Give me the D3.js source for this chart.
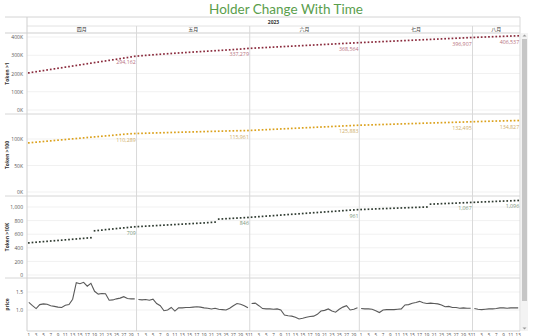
<!DOCTYPE html>
<html>
<head>
<meta charset="utf-8">
<script src="https://cdn.jsdelivr.net/npm/d3@7"></script>
<style>
  body { margin: 0; background: #fff; }
  #wrapper { width: 540px; height: 336px; overflow: hidden; }
  text { font-family: "Open Sans", "Noto Sans", sans-serif; }
</style>
</head>
<body>
<div id="wrapper"></div>
<script>

/* data: one value per day, 2023-04-01 .. 2023-08-13 */
const startDay = "2023-04-01"
const dayCount = 135
const yearLabel = "2023"
const monthLabels = ["四月", "五月", "六月", "七月", "八月"]
const chartTitle = "Holder Change With Time"

const holdersOver1 = [
    203500, 206800, 209900, 213100, 216000, 219400, 222300, 225600, 228700, 231500,
    234900, 237800, 241000, 244100, 247300, 250200, 253600, 256500, 259800, 262700,
    265900, 268800, 272100, 275000, 278200, 281300, 284500, 287400, 290900, 294162,
    296000, 297700, 299300, 300900, 302500, 304000, 305500, 306900, 308300, 309700,
    311100, 312400, 313700, 315000, 316300, 317600, 318800, 320000, 321200, 322400,
    323700, 324900, 326100, 327300, 328500, 329800, 331100, 332500, 333900, 335600, 337279,
    338300, 339400, 340400, 341500, 342500, 343600, 344600, 345700, 346700, 347800,
    348800, 349800, 350900, 351900, 352900, 354000, 355000, 356000, 357100, 358100,
    359200, 360200, 361200, 362300, 363400, 364400, 365500, 366500, 367500, 368564,
    369500, 370400, 371300, 372200, 373200, 374100, 375000, 375900, 376800, 377700,
    378600, 379500, 380400, 381400, 382300, 383200, 384100, 385000, 385900, 386800,
    387700, 388600, 389600, 390500, 391400, 392300, 393200, 394100, 395000, 396000, 396907,
    397700, 398500, 399300, 400000, 400800, 401500, 402300, 403000, 403800, 404500,
    405200, 405900, 406537,
]

const holdersOver100 = [
    92700, 93400, 94000, 94700, 95300, 95900, 96500, 97200, 97800, 98400,
    99000, 99700, 100300, 100900, 101500, 102100, 102800, 103400, 104000, 104600,
    105200, 105800, 106400, 107000, 107700, 108300, 108900, 109500, 110000, 110289,
    110500, 110700, 110900, 111100, 111300, 111500, 111700, 111900, 112100, 112300,
    112500, 112700, 112900, 113100, 113200, 113400, 113600, 113800, 114000, 114200,
    114400, 114500, 114700, 114900, 115100, 115300, 115400, 115600, 115700, 115800, 115961,
    116300, 116600, 117000, 117300, 117600, 118000, 118300, 118600, 119000, 119300,
    119600, 120000, 120300, 120600, 121000, 121300, 121600, 121900, 122300, 122600,
    122900, 123200, 123600, 123900, 124200, 124600, 124900, 125200, 125600, 125883,
    126100, 126300, 126500, 126700, 127000, 127200, 127400, 127600, 127800, 128000,
    128300, 128500, 128700, 128900, 129100, 129300, 129500, 129800, 130000, 130200,
    130400, 130600, 130800, 131000, 131200, 131400, 131600, 131800, 132000, 132300, 132495,
    132700, 132900, 133100, 133300, 133500, 133700, 133900, 134000, 134200, 134400,
    134500, 134700, 134827,
]

const holdersOver10K = [
    472, 478, 482, 487, 491, 495, 500, 504, 508, 512,
    517, 521, 526, 530, 535, 539, 544, 548, 650, 655,
    660, 667, 672, 677, 683, 688, 693, 698, 704, 709,
    712, 715, 718, 721, 724, 727, 730, 733, 736, 739,
    742, 745, 748, 751, 754, 757, 760, 763, 766, 770,
    774, 778, 822, 825, 828, 831, 834, 837, 840, 843, 846,
    850, 854, 858, 862, 866, 869, 873, 877, 881, 885,
    889, 893, 896, 900, 904, 908, 912, 916, 919, 923,
    927, 931, 934, 938, 942, 946, 950, 954, 957, 961,
    963, 965, 967, 969, 972, 974, 976, 978, 980, 982,
    984, 986, 988, 990, 992, 994, 996, 998, 1000, 1042,
    1044, 1046, 1049, 1051, 1053, 1055, 1057, 1060, 1062, 1064, 1067,
    1069, 1071, 1074, 1076, 1078, 1080, 1083, 1085, 1087, 1089,
    1091, 1094, 1096,
]

const price = [
    1.21, 1.12, 1.04, 1.15, 1.17, 1.16, 1.12, 1.10, 1.08, 1.07,
    1.13, 1.15, 1.30, 1.76, 1.73, 1.77, 1.66, 1.74, 1.52, 1.44,
    1.46, 1.45, 1.27, 1.28, 1.31, 1.33, 1.37, 1.32, 1.31, 1.31,
    1.29, 1.28, 1.29, 1.27, 1.30, 1.18, 1.12, 0.98, 1.00, 1.07,
    0.97, 1.06, 1.06, 1.07, 1.07, 1.08, 1.09, 1.08, 1.06, 1.05,
    1.03, 1.05, 1.02, 1.01, 1.00, 1.05, 1.12, 1.18, 1.16, 1.12, 1.06,
    1.18, 1.19, 1.12, 1.04, 1.03, 1.03, 1.02, 1.03, 1.00, 0.86,
    0.84, 0.83, 0.80, 0.75, 0.77, 0.80, 0.82, 0.83, 0.88, 0.97,
    0.99, 1.03, 0.97, 0.94, 1.02, 1.08, 1.12, 1.00, 1.02, 1.06,
    1.04, 1.03, 1.03, 1.02, 0.98, 0.93, 1.00, 1.01, 1.01, 1.01,
    1.02, 1.03, 1.14, 1.15, 1.19, 1.21, 1.24, 1.20, 1.18, 1.19,
    1.18, 1.17, 1.14, 1.09, 1.10, 1.07, 1.07, 1.05, 1.06, 1.05, 1.05,
    1.04, 1.02, 1.01, 1.02, 1.03, 1.03, 1.04, 1.06, 1.06, 1.05,
    1.06, 1.06, 1.06,
]

const ticksOver1 = [0, 100000, 200000, 300000, 400000]
const ticksOver100 = [0, 50000, 100000]
const ticksOver10K = [0, 200, 400, 600, 800, 1000]
const ticksPrice = [1.0, 1.5]

function drawChart() {

    /* 1. Access data */
    const start = d3.timeParse("%Y-%m-%d")(startDay)
    const end = d3.timeDay.offset(start, dayCount)
    const days = d3.timeDay.range(start, end)

    const xAccessor = (d, i) => d3.timeHour.offset(days[i], 12)

    /* 2. Create chart dimensions */
    let dimensions = {
        width: 540,
        height: 336,
        plotLeft: 27,
        plotRight: 520,
        headerTop: 17,
        yearBottom: 26,
        headerBottom: 33,
        plotBottom: 331,
    }

    const panels = [
        { title: "Token >1", values: holdersOver1, ticks: ticksOver1,
          domain: [0, 400000], range: [110, 37], top: 33, bottom: 114,
          format: d => d / 1000 + "K", kind: "dots", color: "#8a2a3c", labelColor: "#b77180" },
        { title: "Token >100", values: holdersOver100, ticks: ticksOver100,
          domain: [0, 100000], range: [192, 139], top: 114, bottom: 196,
          format: d => d / 1000 + "K", kind: "dots", color: "#dba11c", labelColor: "#cfae6a" },
        { title: "Token >10K", values: holdersOver10K, ticks: ticksOver10K,
          domain: [0, 1000], range: [275, 207], top: 196, bottom: 278,
          format: d3.format(","), kind: "dots", color: "#2e3a30", labelColor: "#7c957c" },
        { title: "price", values: price, ticks: ticksPrice,
          domain: [1.0, 1.5], range: [310, 292], top: 278, bottom: 331,
          format: d3.format(".1f"), kind: "line", color: "#5a5a5a" },
    ]

    /* 3. Draw canvas */
    const wrapper = d3.select("#wrapper")
        .append("svg")
        .attr("width", dimensions.width)
        .attr("height", dimensions.height)

    wrapper.append("text")
        .attr("x", 286)
        .attr("y", 14)
        .attr("text-anchor", "middle")
        .attr("fill", "#5a9e4c")
        .style("font-family", "Lato, sans-serif")
        .style("font-size", "13.5px")
        .text(chartTitle)

    /* 4. Create scales */
    const xScale = d3.scaleTime()
        .domain([start, end])
        .range([dimensions.plotLeft, dimensions.plotRight])

    const months = d3.timeMonth.range(start, end)

    /* 5. Draw peripherals */
    const grid = wrapper.append("g")

    // header lines
    grid.append("line")
        .attr("x1", 5).attr("x2", dimensions.plotRight)
        .attr("y1", dimensions.headerTop).attr("y2", dimensions.headerTop)
        .attr("stroke", "#d4d4d4")
    grid.append("line")
        .attr("x1", dimensions.plotLeft).attr("x2", dimensions.plotRight)
        .attr("y1", dimensions.yearBottom).attr("y2", dimensions.yearBottom)
        .attr("stroke", "#e2e2e2")
    grid.append("line")
        .attr("x1", 5).attr("x2", dimensions.plotRight)
        .attr("y1", dimensions.headerBottom).attr("y2", dimensions.headerBottom)
        .attr("stroke", "#cfcfcf")

    wrapper.append("text")
        .attr("x", (dimensions.plotLeft + dimensions.plotRight) / 2)
        .attr("y", 23.5)
        .attr("text-anchor", "middle")
        .attr("fill", "#333")
        .style("font-size", "5px")
        .style("font-weight", "bold")
        .text(yearLabel)

    months.forEach((m, i) => {
        const x0 = xScale(m)
        const x1 = xScale(d3.min([d3.timeMonth.offset(m, 1), end]))
        wrapper.append("text")
            .attr("x", (x0 + x1) / 2)
            .attr("y", 30.5)
            .attr("text-anchor", "middle")
            .attr("fill", "#333")
            .style("font-family", "'Noto Sans CJK SC'")
            .style("font-size", "5px")
            .text(monthLabels[i])
    })

    // panel gridlines + axes
    panels.forEach(p => {
        p.yScale = d3.scaleLinear().domain(p.domain).range(p.range)

        grid.selectAll(null)
            .data(p.ticks)
            .enter().append("line")
            .attr("x1", dimensions.plotLeft).attr("x2", dimensions.plotRight)
            .attr("y1", d => p.yScale(d)).attr("y2", d => p.yScale(d))
            .attr("stroke", "#f1f1f1")

        const yAxisGenerator = d3.axisLeft()
            .scale(p.yScale)
            .tickValues(p.ticks)
            .tickSize(0)
            .tickPadding(4)
            .tickFormat(p.format)

        const yAxis = wrapper.append("g")
            .attr("transform", `translate(${dimensions.plotLeft}, 0)`)
            .call(yAxisGenerator)
        yAxis.select(".domain").remove()
        yAxis.selectAll("text")
            .attr("fill", "#555")
            .style("font-size", "5px")

        wrapper.append("text")
            .attr("transform", `translate(9, ${(p.top + p.bottom) / 2}) rotate(-90)`)
            .attr("text-anchor", "middle")
            .attr("fill", "#333")
            .style("font-size", "5px")
            .style("font-weight", "bold")
            .text(p.title)

        if (p.bottom < dimensions.plotBottom) {
            grid.append("line")
                .attr("x1", 5).attr("x2", dimensions.plotRight)
                .attr("y1", p.bottom).attr("y2", p.bottom)
                .attr("stroke", "#d6d6d6")
        }
    })

    // month dividers
    grid.selectAll(null)
        .data(months.slice(1))
        .enter().append("line")
        .attr("x1", d => xScale(d)).attr("x2", d => xScale(d))
        .attr("y1", dimensions.yearBottom).attr("y2", dimensions.plotBottom)
        .attr("stroke", "#d9d9d9")
    grid.append("line")
        .attr("x1", dimensions.plotLeft).attr("x2", dimensions.plotLeft)
        .attr("y1", dimensions.headerTop).attr("y2", dimensions.plotBottom)
        .attr("stroke", "#cfcfcf")
    grid.append("line")
        .attr("x1", dimensions.plotRight).attr("x2", dimensions.plotRight)
        .attr("y1", dimensions.headerTop).attr("y2", dimensions.plotBottom)
        .attr("stroke", "#d9d9d9")
    grid.append("line")
        .attr("x1", dimensions.plotLeft).attr("x2", dimensions.plotRight)
        .attr("y1", dimensions.plotBottom).attr("y2", dimensions.plotBottom)
        .attr("stroke", "#cfcfcf")

    // day labels on the bottom axis
    wrapper.selectAll(".dayLabel")
        .data(days.filter(d => d.getDate() % 2 === 1))
        .enter().append("text")
        .attr("class", "dayLabel")
        .attr("x", d => xScale(d3.timeHour.offset(d, 12)))
        .attr("y", 336.5)
        .attr("text-anchor", "middle")
        .attr("fill", "#555")
        .style("font-size", "4.5px")
        .text(d => d.getDate())

    /* 6. Draw data */
    const monthEnds = months.map(m => d3.timeDay.offset(d3.min([d3.timeMonth.offset(m, 1), end]), -1))
    const monthEndIdx = monthEnds.map(d => d3.timeDay.count(start, d))

    panels.forEach(p => {
        const bounds = wrapper.append("g")

        if (p.kind === "dots") {
            bounds.selectAll("rect")
                .data(p.values)
                .enter().append("rect")
                .attr("x", (d, i) => xScale(xAccessor(d, i)) - 0.85)
                .attr("y", d => p.yScale(d) - 0.85)
                .attr("width", 1.7)
                .attr("height", 1.7)
                .attr("fill", p.color)

            bounds.selectAll("text")
                .data(monthEndIdx)
                .enter().append("text")
                .attr("x", i => xScale(xAccessor(null, i)) + 1)
                .attr("y", i => p.yScale(p.values[i]) + 8)
                .attr("text-anchor", "end")
                .attr("fill", p.labelColor)
                .style("font-size", "5.3px")
                .text(i => d3.format(",")(p.values[i]))
        } else {
            // line breaks at each month pane
            const lineGenerator = d3.line()
                .x(d => xScale(xAccessor(d.v, d.i)))
                .y(d => p.yScale(d.v))

            months.forEach(m => {
                const seg = p.values
                    .map((v, i) => ({ v, i }))
                    .filter(d => d3.timeMonth.floor(days[d.i]).getTime() === m.getTime())
                bounds.append("path")
                    .attr("d", lineGenerator(seg))
                    .attr("fill", "none")
                    .attr("stroke", p.color)
                    .attr("stroke-width", 1.1)
            })
        }
    })

    /* 7. Scrollbar */
    wrapper.append("rect")
        .attr("x", 521).attr("y", 33)
        .attr("width", 7).attr("height", 298)
        .attr("fill", "#f3f3f3")
    wrapper.append("rect")
        .attr("x", 522).attr("y", 39)
        .attr("width", 5).attr("height", 262)
        .attr("fill", "#c6c6c6")
    wrapper.append("path")
        .attr("d", "M522.5,36.5 L524.5,34.5 L526.5,36.5 Z")
        .attr("fill", "#999")
    wrapper.append("path")
        .attr("d", "M522.5,327.5 L524.5,329.5 L526.5,327.5 Z")
        .attr("fill", "#999")
}
drawChart()
</script>
</body>
</html>
